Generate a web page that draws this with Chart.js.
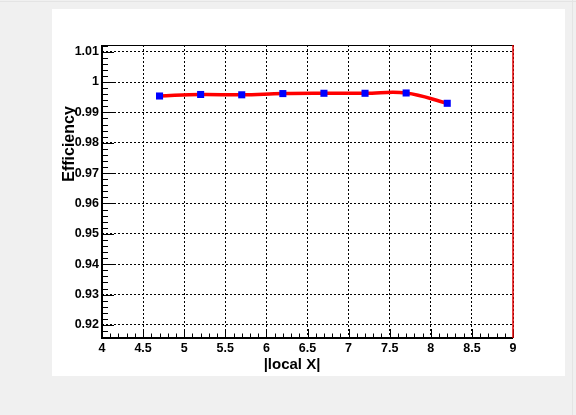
<!DOCTYPE html>
<html>
<head>
<meta charset="utf-8">
<script src="https://cdn.jsdelivr.net/npm/chart.js@4.4.1/dist/chart.umd.min.js"></script>
<style>
html,body{margin:0;padding:0;background:#f0f0f0;}
canvas{display:block;}
</style>
</head>
<body>
<canvas id="c" width="576" height="415"></canvas>
<script>
// ---- data ----
const xValues = [4.7, 5.2, 5.7, 6.2, 6.7, 7.2, 7.7, 8.2];
const efficiency = [0.9954, 0.9959, 0.9958, 0.9962, 0.9963, 0.9963, 0.9964, 0.9930];
const xTickLabels = [4, 4.5, 5, 5.5, 6, 6.5, 7, 7.5, 8, 8.5, 9];
const yTickLabels = [0.92, 0.93, 0.94, 0.95, 0.96, 0.97, 0.98, 0.99, 1.00, 1.01];
const xTitle = '|local X|';
const yTitle = 'Efficiency';

const FONT = "'Liberation Sans', Arial, Helvetica, sans-serif";

const bgPlugin = {
  id: 'bg',
  beforeDraw(chart) {
    const ctx = chart.ctx;
    ctx.save();
    ctx.fillStyle = '#f0f0f0';
    ctx.fillRect(0, 0, 576, 415);
    ctx.fillStyle = '#e4e4e4';
    ctx.fillRect(0, 1, 576, 1);
    ctx.fillRect(572, 0, 1, 415);
    ctx.fillStyle = '#ffffff';
    ctx.fillRect(52, 9, 513, 367);
    ctx.restore();
  }
};

const framePlugin = {
  id: 'frame',
  afterDraw(chart) {
    const ctx = chart.ctx;
    const xs = chart.scales.x, ys = chart.scales.y;
    const a = chart.chartArea;
    ctx.save();
    // minor + major ticks
    ctx.strokeStyle = '#000';
    ctx.lineWidth = 1;
    ctx.beginPath();
    for (let i = 0; i <= 50; i++) {
      const v = 4 + i * 0.1;
      const px = Math.round(xs.getPixelForValue(v)) + 0.5;
      const len = (i % 5 === 0) ? 9 : 4.5;
      ctx.moveTo(px, a.bottom);
      ctx.lineTo(px, a.bottom - len);
    }
    for (let i = -3; i <= 46; i++) {
      const v = 0.92 + i * 0.002;
      if (v < ys.min - 1e-9 || v > ys.max + 1e-9) continue;
      const py = Math.round(ys.getPixelForValue(v)) + 0.5;
      const len = (((i % 5) + 5) % 5 === 0) ? 12 : 6;
      ctx.moveTo(a.left, py);
      ctx.lineTo(a.left + len, py);
    }
    ctx.stroke();
    // frame
    ctx.lineWidth = 2;
    ctx.strokeStyle = '#000';
    ctx.beginPath();
    ctx.moveTo(a.left, a.top);
    ctx.lineTo(a.left, a.bottom);
    ctx.lineTo(a.right, a.bottom);
    ctx.stroke();
    ctx.lineWidth = 1;
    ctx.beginPath();
    ctx.moveTo(a.left, a.top + 0.5);
    ctx.lineTo(a.right, a.top + 0.5);
    ctx.stroke();
    ctx.strokeStyle = '#e00000';
    ctx.lineWidth = 1.5;
    ctx.beginPath();
    ctx.moveTo(a.right, a.top);
    ctx.lineTo(a.right, a.bottom);
    ctx.stroke();
    // titles
    ctx.fillStyle = '#000';
    ctx.textAlign = 'center';
    ctx.textBaseline = 'middle';
    ctx.font = 'bold 15px ' + FONT;
    ctx.fillText(xTitle, 292, 365);
    ctx.translate(70, 144);
    ctx.rotate(-Math.PI / 2);
    ctx.font = 'bold 16px ' + FONT;
    ctx.fillText(yTitle, 0, 0);
    ctx.restore();
  }
};

new Chart(document.getElementById('c'), {
  type: 'line',
  data: {
    datasets: [{
      data: xValues.map((x, i) => ({ x: x, y: efficiency[i] })),
      borderColor: '#ff0000',
      borderWidth: 3.5,
      backgroundColor: '#0000ff',
      pointStyle: 'rect',
      pointRadius: 5,
      pointBorderWidth: 0,
      pointBackgroundColor: '#0000ff',
      tension: 0.4,
      fill: false
    }]
  },
  options: {
    responsive: false,
    maintainAspectRatio: false,
    devicePixelRatio: 1,
    animation: false,
    layout: { padding: { left: 0, top: 45, right: 63, bottom: 0 } },
    plugins: { legend: { display: false }, tooltip: { enabled: false }, title: { display: false } },
    scales: {
      x: {
        type: 'linear',
        min: 4, max: 9,
        afterBuildTicks: s => { s.ticks = xTickLabels.map(v => ({ value: v })); },
        afterFit: s => { s.height = 77; },
        grid: { color: '#000', lineWidth: 1, drawTicks: false },
        border: { display: false, dash: [2, 2] },
        ticks: {
          color: '#000', padding: 3, maxRotation: 0, autoSkip: false,
          font: { family: FONT, size: 12.5, weight: 'bold' },
          callback: v => String(+(+v).toFixed(2))
        }
      },
      y: {
        type: 'linear',
        min: 0.9157, max: 1.0122,
        afterBuildTicks: s => { s.ticks = yTickLabels.map(v => ({ value: v })); },
        afterFit: s => { s.width = 102; },
        grid: { color: '#000', lineWidth: 1, drawTicks: false },
        border: { display: false, dash: [2, 2] },
        ticks: {
          color: '#000', padding: 3, autoSkip: false,
          font: { family: FONT, size: 12.5, weight: 'bold' },
          callback: v => String(+(+v).toFixed(2))
        }
      }
    }
  },
  plugins: [bgPlugin, framePlugin]
});
</script>
</body>
</html>
